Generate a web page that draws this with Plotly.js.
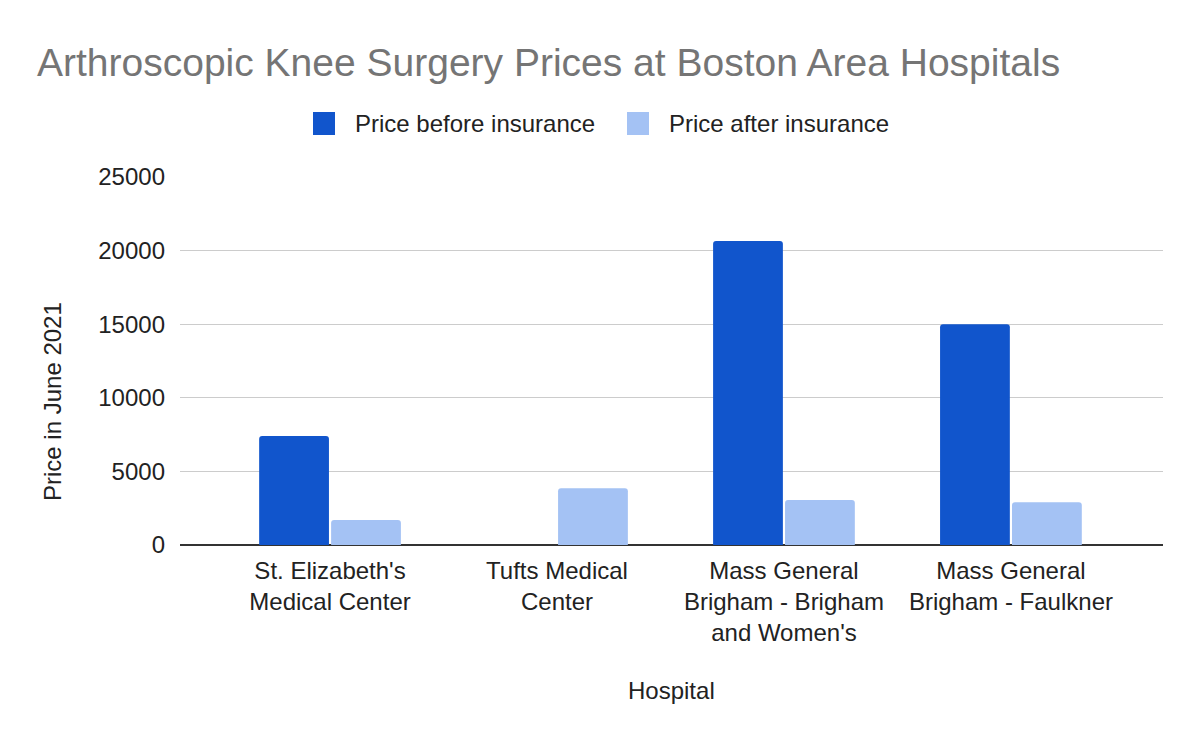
<!DOCTYPE html>
<html>
<head>
<meta charset="utf-8">
<script src="https://cdn.plot.ly/plotly-3.0.1.min.js"></script>
<style>html,body{margin:0;padding:0;background:#fff;}#chart{width:1200px;height:742px;}</style>
</head>
<body>
<div id="chart"></div>
<script>
const hospitals = [
  "St. Elizabeth's<br>Medical Center",
  "Tufts Medical<br>Center",
  "Mass General<br>Brigham - Brigham<br>and Women's",
  "Mass General<br>Brigham - Faulkner"
];
const priceBefore = [7400, null, 20650, 15000];
const priceAfter = [1700, 3860, 3050, 2900];
const seriesNames = ["Price before insurance", "Price after insurance"];
const yTicks = [0, 5000, 10000, 15000, 20000, 25000];

const FONT = 'Liberation Sans, Arial, sans-serif';
const L = 180, R = 1163, T = 177, B = 545;
const px = x => (x - L) / (R - L);
const py = y => (B - y) / (B - T);

const colors = ['#1155cc', '#a4c2f4'];

const traces = [
  {type: 'bar', name: seriesNames[0], x: hospitals, y: priceBefore,
   marker: {color: colors[0], cornerradius: 3}, showlegend: false, hoverinfo: 'y'},
  {type: 'bar', name: seriesNames[1], x: hospitals, y: priceAfter,
   marker: {color: colors[1], cornerradius: 3}, showlegend: false, hoverinfo: 'y'}
];

const legendItems = [
  {sq: 313, tx: 353},
  {sq: 627, tx: 667}
];
const shapes = legendItems.map((it, i) => ({
  type: 'rect', xref: 'paper', yref: 'paper',
  x0: px(it.sq), x1: px(it.sq + 22), y0: py(112), y1: py(135),
  fillcolor: colors[i], line: {width: 0}
}));
const annotations = legendItems.map((it, i) => ({
  xref: 'paper', yref: 'paper', x: px(it.tx), y: py(124),
  xanchor: 'left', yanchor: 'middle', showarrow: false,
  text: seriesNames[i], font: {family: FONT, size: 24, color: '#222222'}
}));
annotations.push({
  xref: 'paper', yref: 'paper', x: px(52), y: py(402),
  xanchor: 'center', yanchor: 'middle', showarrow: false, textangle: -90,
  text: 'Price in June 2021', font: {family: FONT, size: 24, color: '#222222'}
});
annotations.push({
  xref: 'paper', yref: 'paper', x: px(671), y: py(690),
  xanchor: 'center', yanchor: 'middle', showarrow: false,
  text: 'Hospital', font: {family: FONT, size: 24, color: '#222222'}
});

const layout = {
  width: 1200, height: 742,
  margin: {l: L, r: 1200 - R, t: T, b: 742 - B, pad: 0},
  paper_bgcolor: '#ffffff', plot_bgcolor: '#ffffff',
  font: {family: FONT, size: 24, color: '#222222'},
  title: {
    text: 'Arthroscopic Knee Surgery Prices at Boston Area Hospitals',
    xref: 'container', yref: 'container', x: 37 / 1200, xanchor: 'left',
    y: 1 - 62 / 742, yanchor: 'middle',
    font: {family: FONT, size: 39, color: '#757575'}
  },
  barmode: 'group', bargap: 0.366, bargroupgap: 0.03,
  showlegend: false,
  xaxis: {
    type: 'category', range: [-0.661, 3.67],
    showgrid: false, zeroline: false, showline: false,
    ticks: 'outside', ticklen: 4, tickcolor: 'rgba(0,0,0,0)',
    tickfont: {family: FONT, size: 24, color: '#222222'}
  },
  yaxis: {
    range: [0, 25000], tickvals: yTicks, ticktext: yTicks.map(String),
    showgrid: true, gridcolor: '#cccccc', gridwidth: 1,
    zeroline: true, zerolinecolor: '#333333', zerolinewidth: 2,
    showline: false, ticks: '', ticklabelstandoff: 14,
    tickfont: {family: FONT, size: 24, color: '#222222'}
  },
  shapes: shapes,
  annotations: annotations
};

Plotly.newPlot('chart', traces, layout, {displayModeBar: false, staticPlot: true});
</script>
</body>
</html>
